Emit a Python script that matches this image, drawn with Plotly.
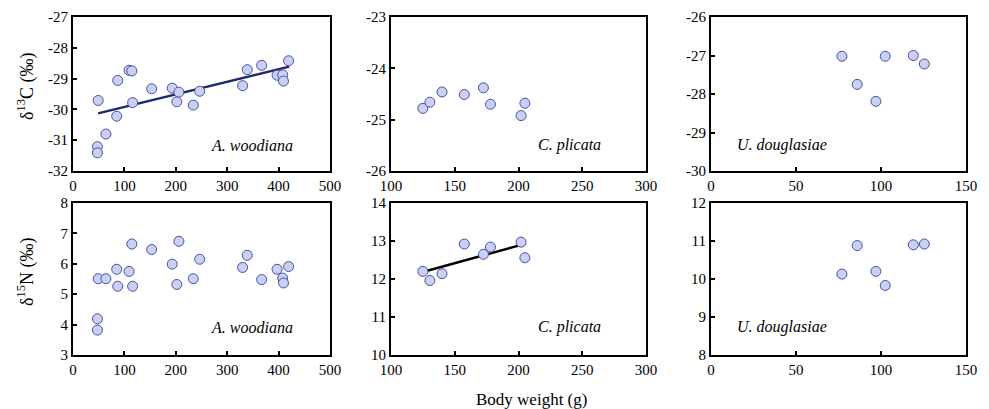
import plotly.graph_objects as go

# ---- data ----
aw_weight = [47.5, 47.5, 49, 64, 85, 87, 109, 114.5, 116, 153, 193, 202, 206, 234, 246.5, 330, 339, 367, 397, 408, 409.5, 419.5]
aw_d13c = [-31.21, -31.41, -29.71, -30.80, -30.22, -29.06, -28.73, -28.75, -29.78, -29.33, -29.31, -29.75, -29.44, -29.86, -29.41, -29.23, -28.71, -28.57, -28.89, -28.88, -29.08, -28.42]
aw_d15n = [4.19, 3.82, 5.51, 5.51, 5.82, 5.26, 5.75, 6.65, 5.26, 6.47, 5.99, 5.32, 6.74, 5.51, 6.15, 5.88, 6.28, 5.48, 5.82, 5.53, 5.37, 5.91]
aw_fit_x = [48.8, 420.5]
aw_fit_c = [-30.13, -28.61]

cp_weight = [125, 130.5, 140, 157.5, 172.5, 178, 202, 205]
cp_d13c = [-24.78, -24.66, -24.46, -24.51, -24.38, -24.70, -24.92, -24.68]
cp_d15n = [12.20, 11.96, 12.14, 12.92, 12.65, 12.84, 12.97, 12.56]
cp_fit_x = [125.6, 205.6]
cp_fit_n = [12.19, 12.93]

ud_weight = [77, 86, 97, 102.5, 119, 125.5]
ud_d13c = [-27.02, -27.75, -28.19, -27.02, -27.00, -27.22]
ud_d15n = [10.13, 10.88, 10.20, 9.83, 10.90, 10.92]

species = ["A. woodiana", "C. plicata", "U. douglasiae"]
x_ticks = [[0, 100, 200, 300, 400, 500], [100, 150, 200, 250, 300], [0, 50, 100, 150]]
c_ticks = [[-32, -31, -30, -29, -28, -27], [-26, -25, -24, -23], [-30, -29, -28, -27, -26]]
n_ticks = [[3, 4, 5, 6, 7, 8], [10, 11, 12, 13, 14], [8, 9, 10, 11, 12]]

# ---- figure ----
W, H = 989, 409
OFF = 8  # page body margin
fig = go.Figure()

cols_px = [(73, 330), (391, 646), (711, 966)]
rows_px = [(17, 171), (203, 355)]

def px_x(p):
    return (p - OFF) / W

def px_y(p):
    return 1 - (p - OFF) / H

marker = dict(size=10, color="#c9d1f2", line=dict(color="#4a4fa6", width=1))

weights = [aw_weight, cp_weight, ud_weight]
d13c = [aw_d13c, cp_d13c, ud_d13c]
d15n = [aw_d15n, cp_d15n, ud_d15n]

font_family = "Liberation Serif, Times New Roman, serif"
axis_common = dict(showline=True, linecolor="black", linewidth=2, mirror=True,
                   ticks="inside", ticklen=4, tickwidth=1.5, tickcolor="black",
                   showgrid=False, zeroline=False, automargin=False,
                   tickfont=dict(family=font_family, size=15, color="black"))

def axis_for(ticks):
    return dict(range=[ticks[0], ticks[-1]], tickmode="array", tickvals=ticks,
                ticktext=[str(t) for t in ticks])

def annot(x, y, text, size, angle=0, italic=False):
    fig.add_annotation(x=px_x(x), y=px_y(y), xref="paper", yref="paper",
                       xanchor="center", yanchor="middle",
                       text=f"<i>{text}</i>" if italic else text,
                       textangle=angle, showarrow=False,
                       font=dict(family=font_family, size=size, color="black"))

fig_traces = []
idx = 0
for r in range(2):
    for c in range(3):
        idx += 1
        xa = "x" if idx == 1 else f"x{idx}"
        ya = "y" if idx == 1 else f"y{idx}"
        ys = d13c[c] if r == 0 else d15n[c]
        fig_traces.append(go.Scatter(x=weights[c], y=ys, mode="markers", marker=marker,
                                     xaxis=xa, yaxis=ya, showlegend=False))
        xkey = "xaxis" if idx == 1 else f"xaxis{idx}"
        ykey = "yaxis" if idx == 1 else f"yaxis{idx}"
        fig.layout[xkey] = dict(domain=[px_x(cols_px[c][0]), px_x(cols_px[c][1])], anchor=ya,
                                **axis_for(x_ticks[c]), **axis_common)
        yt = c_ticks[c] if r == 0 else n_ticks[c]
        fig.layout[ykey] = dict(domain=[px_y(rows_px[r][1]), px_y(rows_px[r][0])], anchor=xa,
                                **axis_for(yt), **axis_common)

# species labels
label_x = [252, 569, 782]
label_y = [145, 327]
for r in range(2):
    for c in range(3):
        annot(label_x[c], label_y[r], species[c], 16, italic=True)

# regression lines (drawn beneath markers)
fig.add_trace(go.Scatter(x=aw_fit_x, y=aw_fit_c, mode="lines",
                         line=dict(color="#1f2a6b", width=2.5),
                         xaxis="x", yaxis="y", showlegend=False))
for t in fig_traces[:4]:
    fig.add_trace(t)
fig.add_trace(go.Scatter(x=cp_fit_x, y=cp_fit_n, mode="lines",
                         line=dict(color="black", width=2.5),
                         xaxis="x5", yaxis="y5", showlegend=False))
for t in fig_traces[4:]:
    fig.add_trace(t)

# axis titles
annot(26, 86, "δ<sup>13</sup>C (‰)", 18, angle=-90)
annot(26, 272, "δ<sup>15</sup>N (‰)", 18, angle=-90)
annot(531, 399, "Body weight (g)", 17)

fig.update_layout(width=W, height=H, margin=dict(l=0, r=0, t=0, b=0),
                  plot_bgcolor="white", paper_bgcolor="white",
                  font=dict(family=font_family, color="black"))

fig.write_html("out.html")
